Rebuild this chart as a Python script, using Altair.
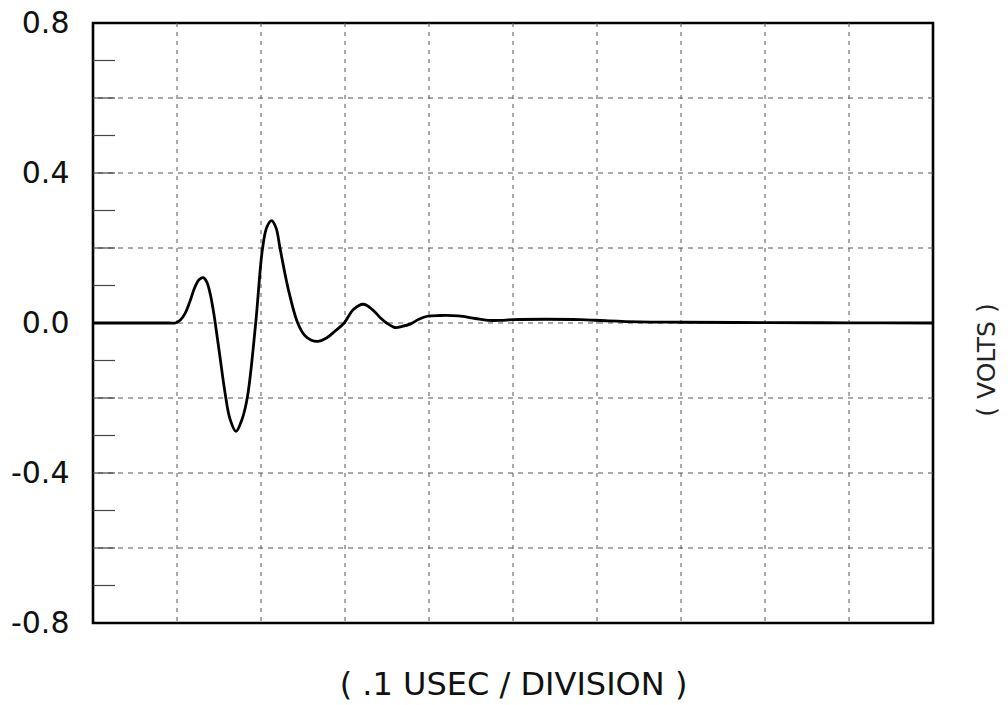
import altair as alt
import pandas as pd

# Waveform (x in divisions of 0.1 usec, y in volts)
x_div = [0.0, 0.5, 0.9, 0.98, 1.04, 1.095, 1.15, 1.214, 1.265, 1.313, 1.355, 1.393, 1.425,
         1.452, 1.512, 1.571, 1.631, 1.702, 1.777, 1.84, 1.937, 2.016, 2.07, 2.127,
         2.18, 2.226, 2.325, 2.437, 2.52, 2.60, 2.68, 2.78, 2.88, 2.99, 3.10, 3.218,
         3.33, 3.42, 3.495, 3.595, 3.68, 3.774, 3.88, 3.98, 4.13, 4.35, 4.55, 4.70,
         4.85, 5.00, 5.40, 5.80, 6.10, 6.50, 7.00, 8.00, 9.00, 10.0]
volts = [0.0, 0.0, 0.0, 0.0, 0.008, 0.025, 0.055, 0.096, 0.116, 0.121, 0.109, 0.08, 0.043,
         0.005, -0.091, -0.185, -0.256, -0.289, -0.255, -0.195, 0.0, 0.195, 0.256, 0.273,
         0.253, 0.2, 0.09, 0.0, -0.033, -0.046, -0.049, -0.04, -0.022, 0.0, 0.036, 0.05,
         0.035, 0.014, 0.0, -0.012, -0.009, -0.003, 0.01, 0.018, 0.02, 0.019, 0.012, 0.007,
         0.007, 0.009, 0.01, 0.009, 0.006, 0.003, 0.002, 0.001, 0.0005, 0.0]

grid_x = [1, 2, 3, 4, 5, 6, 7, 8, 9]
grid_y = [-0.6, -0.4, -0.2, 0.0, 0.2, 0.4, 0.6]
minor_ticks_y = [-0.7, -0.6, -0.5, -0.4, -0.3, -0.2, -0.1, 0.0,
                 0.1, 0.2, 0.3, 0.4, 0.5, 0.6, 0.7]
y_label_values = [-0.8, -0.4, 0.0, 0.4, 0.8]
x_title = "(  .1 USEC / DIVISION )"
y_title = "( VOLTS )"

FONT = "DejaVu Sans"
xs = alt.Scale(domain=[0, 10], nice=False, zero=False)
ys = alt.Scale(domain=[-0.8, 0.8], nice=False, zero=False)

x_axis = alt.Axis(
    labels=False, ticks=False, domain=False, grid=False,
    title=x_title, titleFont=FONT, titleFontSize=32, titleFontWeight="normal",
    titleColor="#111111", titlePadding=46,
)
y_axis = alt.Axis(
    values=y_label_values, ticks=False, domain=False, grid=False, title=None,
    labelFont=FONT, labelFontSize=30, labelColor="#111111", labelPadding=24,
    labelExpr="datum.value < 0 ? '-' + format(-datum.value, '.1f') : format(datum.value, '.1f')",
)

wave = pd.DataFrame({"x": x_div, "v": volts})
gx = pd.DataFrame({"x": grid_x})
gy = pd.DataFrame({"v": grid_y})
mt = pd.DataFrame({"v": minor_ticks_y})
vt = pd.DataFrame({"t": [y_title]})

vgrid = alt.Chart(gx).mark_rule(color="#555555", strokeWidth=1, strokeDash=[4, 5]).encode(
    x=alt.X("x:Q", scale=xs, axis=x_axis)
)
hgrid = alt.Chart(gy).mark_rule(color="#555555", strokeWidth=1, strokeDash=[5, 5]).encode(
    y=alt.Y("v:Q", scale=ys, axis=y_axis)
)
ticks = alt.Chart(mt).mark_rule(color="#444444", strokeWidth=1.2).encode(
    y=alt.Y("v:Q", scale=ys, axis=y_axis),
    x=alt.value(0),
    x2=alt.value(22),
)
line = alt.Chart(wave).mark_line(color="black", strokeWidth=2.8, interpolate="catmull-rom").encode(
    x=alt.X("x:Q", scale=xs, axis=x_axis),
    y=alt.Y("v:Q", scale=ys, axis=y_axis),
)
volts_label = alt.Chart(vt).mark_text(
    angle=270, fontSize=25, font=FONT, color="#222222", baseline="middle", align="center"
).encode(text="t:N", x=alt.value(894), y=alt.value(337))

chart = (
    alt.layer(vgrid, hgrid, ticks, line, volts_label)
    .properties(
        width=840,
        height=600,
        autosize=alt.AutoSizeParams(type="none"),
        padding={"left": 93, "top": 23, "right": 75, "bottom": 82},
        background="white",
    )
    .configure_view(stroke="black", strokeWidth=2.6)
)

chart.save("out.html", embed_options={"renderer": "svg", "actions": False})
